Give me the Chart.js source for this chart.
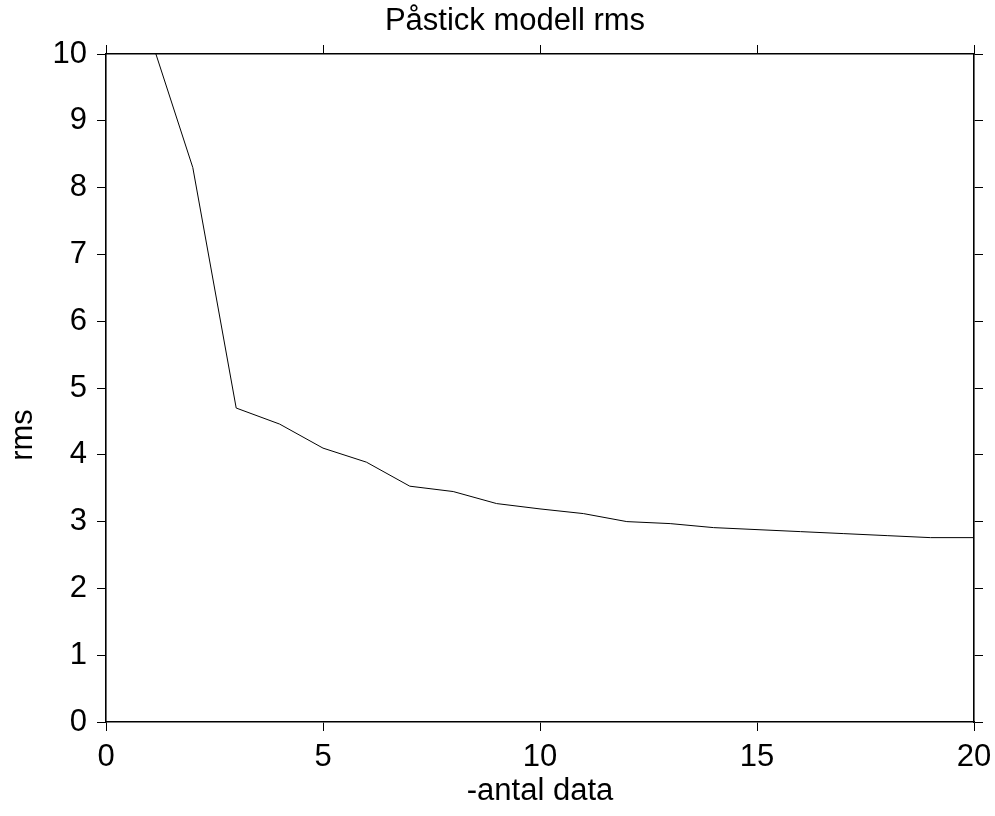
<!DOCTYPE html>
<html>
<head>
<meta charset="utf-8">
<script src="https://cdn.jsdelivr.net/npm/chart.js@4"></script>
<style>
    html, body { margin: 0; padding: 0; background: #fff; }
    canvas { display: block; }
</style>
</head>
<body>
<canvas id="rmsChart" width="995" height="816"></canvas>
<script>
const chartTitle = "Påstick modell rms";
const xLabel = "-antal data";
const yLabel = "rms";

const antalData = [1, 2, 3, 4, 5, 6, 7, 8, 9, 10, 11, 12, 13, 14, 15, 16, 17, 18, 19, 20];
const rmsValues = [10.3, 8.30, 4.70, 4.46, 4.10, 3.89, 3.53, 3.45, 3.27, 3.19, 3.12, 3.00, 2.97, 2.91, 2.88, 2.85, 2.82, 2.79, 2.76, 2.76];

const xRange = [0, 20];
const yRange = [0, 10];

const fontFamily = '"Liberation Sans", Arial, sans-serif';
const fontSize = 31;

// title and y label sit off-centre in the original, so draw them by hand
const labelsPlugin = {
    id: "labels",
    afterDraw(chart) {
        const ctx = chart.ctx;
        ctx.save();
        ctx.font = fontSize + "px " + fontFamily;
        ctx.fillStyle = "#000";
        ctx.textAlign = "center";
        ctx.textBaseline = "middle";
        ctx.fillText(chartTitle, 515, 21);
        ctx.translate(23.5, 435);
        ctx.rotate(-Math.PI / 2);
        ctx.fillText(yLabel, 0, 0);
        ctx.restore();
    }
};

function axis(position, range, step, size, showLabels, extra) {
    return Object.assign({
        type: "linear",
        position,
        min: range[0],
        max: range[1],
        afterFit(scale) {
            if (scale.isHorizontal()) scale.height = size;
            else scale.width = size;
            // no extra room for the end labels, the box sizes are fixed
            scale.paddingLeft = 0;
            scale.paddingRight = 0;
            scale.paddingTop = 0;
            scale.paddingBottom = 0;
        },
        grid: {
            drawOnChartArea: false,
            drawTicks: true,
            tickLength: 9,
            tickColor: "#000",
            lineWidth: 1
        },
        border: { display: true, color: "#000", width: 1.6 },
        ticks: {
            display: showLabels,
            stepSize: step,
            color: "#000",
            padding: 8,
            maxRotation: 0,
            autoSkip: false,
            font: { family: fontFamily, size: fontSize }
        }
    }, extra || {});
}

const ctx = document.getElementById("rmsChart");

const yAxis = axis("left", yRange, 1, 106, true);
yAxis.ticks.padding = 10;

const xAxis = axis("bottom", xRange, 5, 94, true, {
    title: {
        display: true,
        text: xLabel,
        color: "#000",
        font: { family: fontFamily, size: fontSize },
        padding: { top: 0, bottom: 6 }
    }
});

new Chart(ctx, {
    type: "line",
    data: {
        datasets: [{
            label: "rms",
            data: antalData.map((x, i) => ({ x, y: rmsValues[i] })),
            borderColor: "#000",
            borderWidth: 1,
            pointRadius: 0,
            tension: 0,
            fill: false
        }]
    },
    options: {
        responsive: false,
        animation: false,
        devicePixelRatio: 1,
        layout: { padding: 0 },
        plugins: {
            legend: { display: false },
            tooltip: { enabled: false }
        },
        scales: {
            x: xAxis,
            x2: axis("top", xRange, 5, 54, false),
            y: yAxis,
            y2: axis("right", yRange, 1, 21, false)
        }
    },
    plugins: [labelsPlugin]
});
</script>
</body>
</html>
